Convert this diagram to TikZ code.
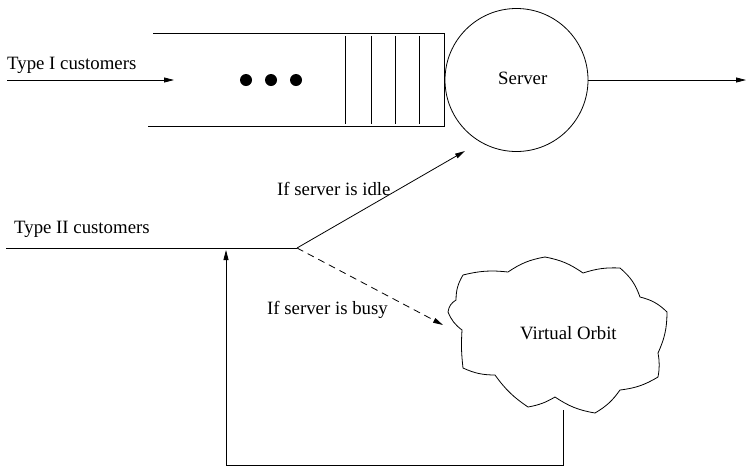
\documentclass[tikz,border=0pt]{standalone}
\usepackage{fontspec}
\setmainfont{Liberation Serif}
\usetikzlibrary{arrows.meta}
\begin{document}
\begin{tikzpicture}[x=1pt,y=-1pt,
  lbl/.style={inner sep=0pt,font=\fontsize{18.8}{22}\selectfont,anchor=base west},
  arr/.style={-{Triangle[length=10pt,width=5pt]}},
  ln/.style={line width=0.8pt},
  cb/.style={bend left=#1}]
\useasboundingbox (0,0) rectangle (746,467);
% queue
\coordinate (qtl) at (153,33);
\coordinate (qtr) at (444,33);
\coordinate (qbl) at (148,126);
\coordinate (qbr) at (444,126);
\draw[ln] (qtl) -- (qtr) -- (qbr) -- (qbl);
\foreach \x in {345,371,395,419}{\draw[ln] (\x,36) -- (\x,124);}
\foreach \x in {246,271,296}{\fill (\x,80) circle (6);}
% server
\node[circle,draw,ln,minimum size=143pt,inner sep=0pt] (srv) at (516.5,80) {};
\node[lbl] (srvt) at (498,84) {Server};
% type I
\coordinate (t1s) at (7,80);
\coordinate (t1e) at (174,80);
\draw[ln,arr] (t1s) -- (t1e);
\node[lbl] (t1t) at (7,69) {Type I customers};
% output
\coordinate (oute) at (746,80);
\draw[ln,arr] (srv.east) -- (oute);
% type II
\coordinate (t2s) at (6,248);
\coordinate (br) at (297,248);
\draw[ln] (t2s) -- (br);
\node[lbl] (t2t) at (14,233) {Type II customers};
\coordinate (idle) at (465,151);
\draw[ln,arr] (br) -- (idle);
\node[lbl] (idlet) at (277,195) {If server is idle};
\coordinate (busy) at (443,325);
\draw[ln,arr,dashed,dash pattern=on 7pt off 5pt] (br) -- (busy);
\node[lbl] (busyt) at (267,314) {If server is busy};
% cloud
\coordinate (c1) at (463,275);
\coordinate (c2) at (508,272);
\coordinate (c3) at (545,257);
\coordinate (c4) at (583,273);
\coordinate (c5) at (620,268);
\coordinate (c6) at (640,297);
\coordinate (c7) at (667,312);
\coordinate (c8) at (658,353);
\coordinate (c9) at (658,377);
\coordinate (c10) at (620,390);
\coordinate (c11) at (595,413);
\coordinate (c12) at (555,397);
\coordinate (c13) at (528,407);
\coordinate (c14) at (495,375);
\coordinate (c15) at (463,368);
\coordinate (c16) at (462,330);
\coordinate (c17) at (448,312);
\coordinate (c18) at (456,300);
\draw[ln] (c1) to[cb=10] (c2) to[cb=12] (c3) to[cb=12] (c4)
  to[cb=10] (c5) to[cb=15] (c6) to[cb=15] (c7)
  to[cb=12] (c8) to[cb=10] (c9) to[cb=12] (c10)
  to[cb=12] (c11) to[cb=12] (c12) to[cb=10] (c13)
  to[cb=10] (c14) to[cb=12] (c15) to[cb=5] (c16)
  to[cb=15] (c17) to[cb=25] (c18) to[cb=15] (c1);
\node[lbl] (vo) at (520,339) {Virtual Orbit};
% return path
\coordinate (rs) at (563,410);
\coordinate (rb1) at (563,465);
\coordinate (rb2) at (226,465);
\coordinate (re) at (226,250);
\draw[ln,arr] (rs) -- (rb1) -- (rb2) -- (re);
\end{tikzpicture}
\end{document}
